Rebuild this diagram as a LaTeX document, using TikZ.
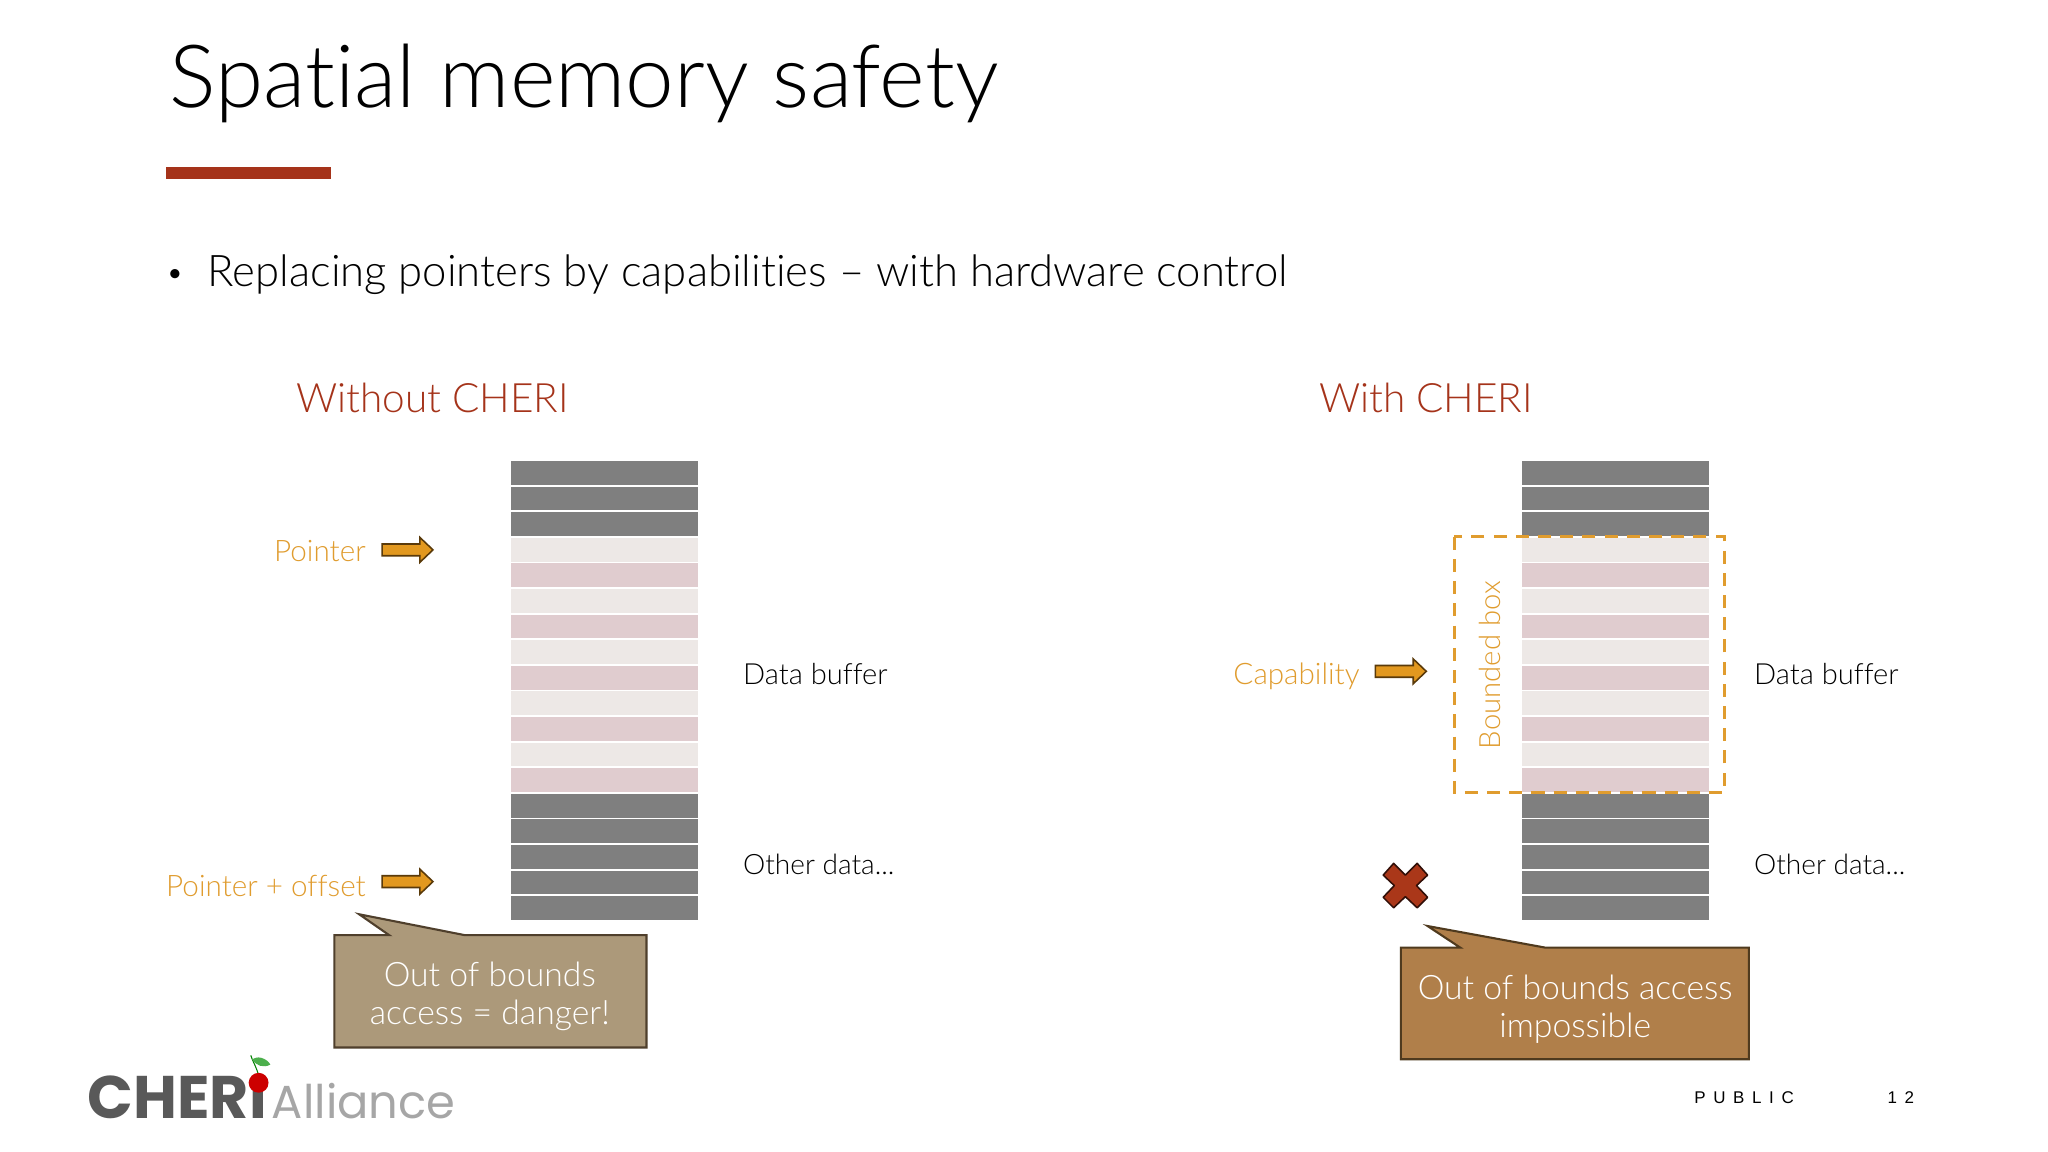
\documentclass[tikz,border=0pt]{standalone}
\usepackage{fontspec}
\setmainfont{Lato Light}[Ligatures=NoCommon]
\newfontfamily\logobold{Poppins Bold}
\newfontfamily\logoreg{Poppins}
\newfontfamily\footf{Liberation Sans}[LetterSpace=45]
\definecolor{rust}{HTML}{A5331A}
\definecolor{amber}{HTML}{E09C2E}
\definecolor{amberfill}{HTML}{E2981F}
\definecolor{amberline}{HTML}{5A3A0A}
\definecolor{rowdark}{HTML}{7F7F7F}
\definecolor{rowlight}{HTML}{EDE8E6}
\definecolor{rowpink}{HTML}{E0CCCF}
\tikzset{
  txt/.style={inner sep=0pt,outer sep=0pt,font=\fontsize{#1}{#1}\selectfont},
  lab/.style={txt=22.7,text=amber,anchor=base east},
  datalab/.style={txt=22.3,text=black,anchor=base west},
  head/.style={txt=31,text=rust,anchor=base west},
  calltxt/.style={txt=25.8,text=white,anchor=base},
  blockarrow/.style={fill=amberfill,draw=amberline,line width=1.2pt},
}
\newcommand{\rowstack}[2]{%
  \foreach \i in {0,...,17}{
    \pgfmathtruncatemacro{\k}{\i<3||\i>12?0:(mod(\i,2)==1?1:2)}
    \ifcase\k\relax\def\c{rowdark}\or\def\c{rowlight}\or\def\c{rowpink}\fi
    \fill[\c] (#1,{353+19.6*\i}) rectangle ++(143.5,18.2);
  }
}
\newcommand{\blockarr}[2]{%
  \draw[blockarrow,line join=miter] (#1,#2-4.5) -- ++(29,0) -- ++(0,-5) -- ++(10,9.5) -- ++(-10,9.5) -- ++(0,-5) -- ++(-29,0) -- cycle;
}
\begin{document}
\begin{tikzpicture}[x=1pt,y=-1pt]
\useasboundingbox (0,0) rectangle (1568,882);
\fill[white] (0,0) rectangle (1568,882);
\node[txt=66.8,anchor=base west] (title) at (130,82) {Spatial memory safety};
\fill[rust] (127,128) rectangle (253.5,137);
\node[txt=24,anchor=base] (bullet) at (134,217) {•};
\node[txt=33.4,anchor=base west] (lead) at (159,219) {Replacing pointers by capabilities – with hardware control};
\node[head] (without) at (227,316) {Without CHERI};
\node[head] (with) at (1010,316) {With CHERI};
\rowstack{391}{0}
\rowstack{1165}{0}
\node[lab] (ptr) at (280,430) {Pointer};
\blockarr{292.5}{421}
\node[lab] (ptroff) at (280,686) {Pointer + offset};
\blockarr{292.5}{675}
\node[lab] (cap) at (1041,524) {Capability};
\blockarr{1053}{514}
\node[datalab] (d1) at (569,524) {Data buffer};
\node[datalab,txt=21.5] (o1) at (569,669.5) {Other data...};
\node[datalab] (d2) at (1343,524) {Data buffer};
\node[datalab,txt=21.5] (o2) at (1343,669.5) {Other data...};
\draw[amber,line width=2.4pt,dash pattern=on 10pt off 7pt] (1113.5,411) rectangle (1320,607);
\node[txt=22.4,text=amber,rotate=90,anchor=base west] (bbox) at (1149,573.5) {Bounded box};
\draw[fill=rust!95!orange,draw=black!70!rust,line width=1.2pt,line join=round]
  (1067,661) -- (1076,670) -- (1085,661) -- (1093,670) -- (1084.5,678) -- (1093,687) -- (1085,695) -- (1076,686.5) -- (1067,695) -- (1059,687) -- (1067.5,678) -- (1059,670) -- cycle;
\draw[fill={rgb,255:red,172;green,153;blue,122},draw={rgb,255:red,79;green,63;blue,44},line width=1.6pt]
  (256,716) -- (298,716) -- (275,700) -- (356,716) -- (495,716) -- (495,802) -- (256,802) -- cycle;
\node[calltxt] (c1a) at (375,755) {Out of bounds};
\node[calltxt] (c1b) at (375,784) {access = danger!};
\draw[fill={rgb,255:red,176;green,127;blue,74},draw={rgb,255:red,79;green,58;blue,30},line width=1.6pt]
  (1072.5,725.5) -- (1118,725.5) -- (1093,709) -- (1183,725.5) -- (1339,725.5) -- (1339,811) -- (1072.5,811) -- cycle;
\node[calltxt] (c2a) at (1206,765) {Out of bounds access};
\node[calltxt] (c2b) at (1206,794) {impossible};
\node[inner sep=0pt,anchor=base west,text=black] (pub) at (1297,845) {\footf\fontsize{13}{13}\selectfont PUBLIC};
\node[inner sep=0pt,anchor=base west,text=black] (num) at (1445,845) {\footf\fontsize{13}{13}\selectfont 12};
\node[inner sep=0pt,anchor=base west,text=black!65] (ch) at (67,856) {\logobold\fontsize{46}{46}\selectfont CHERI};
\node[inner sep=0pt,anchor=base west,text=black!35] (al) at (208,856) {\logoreg\fontsize{35.5}{35.5}\selectfont Alliance};
\draw[green!50!black,line width=.8pt] (192,808) .. controls (194,814) and (197,818) .. (198,824);
\fill[green!55!black!70] (193,811) .. controls (197,808) and (204,810) .. (207,815) .. controls (202,818) and (196,816) .. (193,811);
\fill[red!80!black] (198,829) circle (7.6);
\end{tikzpicture}
\end{document}
